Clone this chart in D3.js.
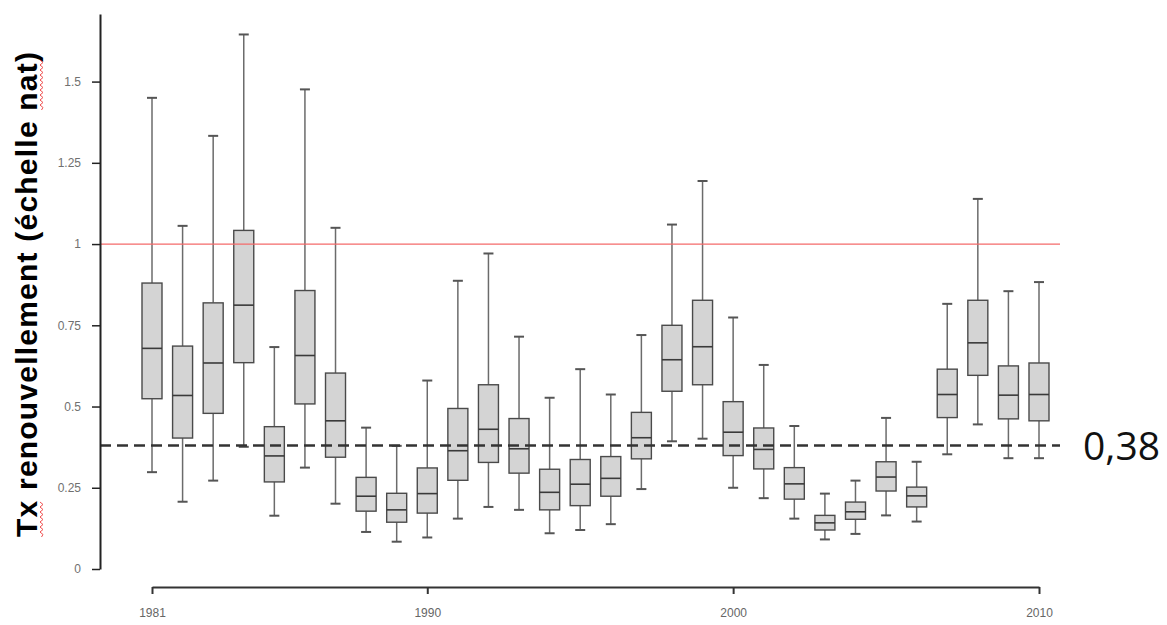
<!DOCTYPE html>
<html><head><meta charset="utf-8">
<script src="https://cdn.jsdelivr.net/npm/d3@7"></script>
<style>html,body{margin:0;padding:0;background:#fff;}svg{display:block;}</style>
</head><body>
<svg id="c" width="1167" height="625"></svg>
<script>
const years = d3.range(1981, 2011);
const upperWhisker = [1.450,1.056,1.333,1.645,0.683,1.476,1.050,0.435,0.379,0.580,0.887,0.971,0.715,0.527,0.615,0.537,0.720,1.060,1.194,0.774,0.628,0.440,0.232,0.272,0.465,0.330,0.816,1.139,0.855,0.883];
const q3 = [0.880,0.686,0.819,1.042,0.438,0.857,0.603,0.282,0.233,0.311,0.494,0.567,0.463,0.307,0.337,0.346,0.482,0.750,0.827,0.515,0.434,0.312,0.165,0.206,0.330,0.252,0.615,0.827,0.625,0.634];
const medians = [0.679,0.534,0.634,0.812,0.348,0.657,0.456,0.224,0.182,0.232,0.364,0.430,0.370,0.236,0.261,0.279,0.404,0.644,0.684,0.421,0.368,0.262,0.142,0.176,0.283,0.225,0.537,0.696,0.535,0.537];
const q1 = [0.524,0.403,0.479,0.635,0.268,0.508,0.344,0.178,0.144,0.172,0.273,0.328,0.295,0.182,0.195,0.224,0.339,0.547,0.567,0.349,0.308,0.215,0.120,0.153,0.240,0.191,0.466,0.596,0.462,0.456];
const lowerWhisker = [0.298,0.207,0.272,0.376,0.164,0.312,0.201,0.114,0.084,0.097,0.155,0.191,0.182,0.110,0.120,0.138,0.246,0.393,0.401,0.250,0.218,0.155,0.091,0.108,0.165,0.146,0.353,0.445,0.341,0.341];
const yTicks = [0, 0.25, 0.5, 0.75, 1, 1.25, 1.5];
const xTicks = [1981, 1990, 2000, 2010];
const replacementLine = 1;
const nationalLine = 0.38;
const nationalLabel = "0,38";
const yTitle = "Tx renouvellement (échelle nat)";

const svg = d3.select("#c");
const x = d3.scaleLinear().domain([1981, 2010]).range([152, 1039]);
const y = d3.scaleLinear().domain([0, 1.708]).range([569, 14]);
const boxW = 20, capW = 10;

const data = years.map((yr, i) => ({yr, lo: lowerWhisker[i], q1: q1[i], med: medians[i], q3: q3[i], hi: upperWhisker[i]}));

const g = svg.append("g");
const b = g.selectAll("g.box").data(data).join("g").attr("class", "box");
b.append("line").attr("x1", d => x(d.yr)).attr("x2", d => x(d.yr))
  .attr("y1", d => y(d.hi)).attr("y2", d => y(d.q3)).attr("stroke", "#6b6b6b").attr("stroke-width", 1.5);
b.append("line").attr("x1", d => x(d.yr)).attr("x2", d => x(d.yr))
  .attr("y1", d => y(d.q1)).attr("y2", d => y(d.lo)).attr("stroke", "#6b6b6b").attr("stroke-width", 1.5);
b.append("line").attr("x1", d => x(d.yr) - capW/2).attr("x2", d => x(d.yr) + capW/2)
  .attr("y1", d => y(d.hi)).attr("y2", d => y(d.hi)).attr("stroke", "#555").attr("stroke-width", 2);
b.append("line").attr("x1", d => x(d.yr) - capW/2).attr("x2", d => x(d.yr) + capW/2)
  .attr("y1", d => y(d.lo)).attr("y2", d => y(d.lo)).attr("stroke", "#555").attr("stroke-width", 2);
b.append("rect").attr("x", d => x(d.yr) - boxW/2).attr("width", boxW)
  .attr("y", d => y(d.q3)).attr("height", d => y(d.q1) - y(d.q3))
  .attr("fill", "#d4d4d4").attr("stroke", "#4a4a4a").attr("stroke-width", 1.4);
b.append("line").attr("x1", d => x(d.yr) - boxW/2).attr("x2", d => x(d.yr) + boxW/2)
  .attr("y1", d => y(d.med)).attr("y2", d => y(d.med)).attr("stroke", "#3a3a3a").attr("stroke-width", 1.6);

g.append("line").attr("x1", 100).attr("x2", 1060).attr("y1", y(replacementLine)).attr("y2", y(replacementLine))
  .attr("stroke", "#f46a6a").attr("stroke-width", 1.3);
g.append("line").attr("x1", 100).attr("x2", 1060).attr("y1", y(nationalLine)).attr("y2", y(nationalLine))
  .attr("stroke", "#333").attr("stroke-width", 2.6).attr("stroke-dasharray", "11,6");
svg.append("text").attr("x", 1083).attr("y", y(nationalLine) + 14)
  .attr("font-family", "Open Sans").attr("font-size", 39).attr("fill", "#111").text(nationalLabel);

const ya = svg.append("g").attr("transform", "translate(100,0)")
  .call(d3.axisLeft(y).tickValues(yTicks).tickFormat(d => String(d)).tickSize(8).tickPadding(11).tickSizeOuter(0));
ya.select(".domain").attr("stroke", "#222").attr("stroke-width", 2);
ya.selectAll(".tick line").attr("stroke", "#222").attr("stroke-width", 1.5);
ya.selectAll(".tick text").attr("fill", "#707070").attr("font-family", "'Liberation Sans', Arial").attr("font-size", 12);

const xa = svg.append("g").attr("transform", "translate(0,587)")
  .call(d3.axisBottom(x).tickValues(xTicks).tickFormat(d3.format("d")).tickSize(7).tickPadding(14).tickSizeOuter(0));
xa.select(".domain").attr("stroke", "#333").attr("stroke-width", 2);
xa.selectAll(".tick line").attr("stroke", "#333").attr("stroke-width", 2);
xa.selectAll(".tick text").attr("fill", "#666").attr("font-family", "'Liberation Sans Narrow', 'Liberation Sans', Arial").attr("font-size", 12);

svg.append("text").attr("transform", "translate(37,294.5) rotate(-90)")
  .attr("text-anchor", "middle").attr("font-family", "'Liberation Sans', Arial").attr("font-weight", "bold")
  .attr("font-size", 30).attr("textLength", 485).attr("lengthAdjust", "spacing").attr("fill", "#000").text(yTitle);

function wavy(xp, y0, y1) {
  let p = `M${xp},${y0}`; let s = 1;
  for (let yy = y0; yy > y1; yy -= 2.5) { p += `L${xp + s*1.5},${yy - 2.5}`; s = -s; }
  return p;
}
svg.append("path").attr("d", wavy(41.5, 537, 503)).attr("fill", "none").attr("stroke", "#f05050").attr("stroke-width", 1);
svg.append("path").attr("d", wavy(41.5, 110, 60)).attr("fill", "none").attr("stroke", "#f05050").attr("stroke-width", 1);
</script>
</body></html>
